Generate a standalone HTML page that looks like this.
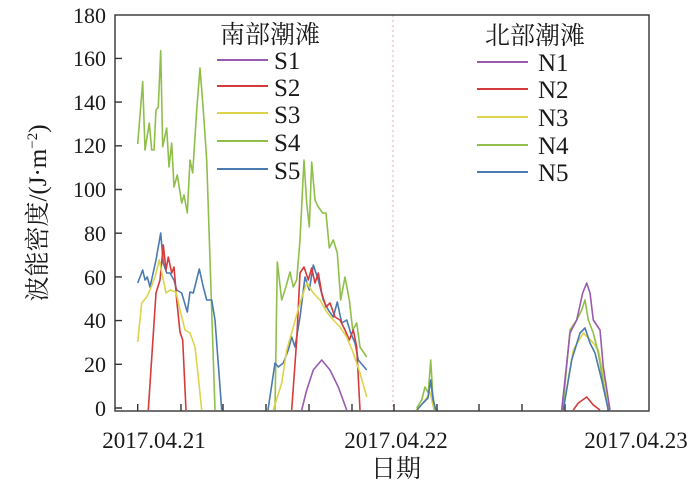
<!DOCTYPE html>
<html><head><meta charset="utf-8"><style>
body{margin:0;background:#fff}
svg text{font-family:"Liberation Serif","Noto Serif CJK SC",serif;fill:#1a1a1a}
</style></head><body>
<svg width="700" height="484" viewBox="0 0 700 484" xmlns="http://www.w3.org/2000/svg">
<rect width="700" height="484" fill="#fff"/>
<line x1="393" y1="15" x2="393" y2="411" stroke="#d9b0b0" stroke-width="1" stroke-dasharray="2,3"/>
<g stroke="#333" stroke-width="1.4" fill="none">
<rect x="115" y="15" width="534" height="396"/>
<path d="M115 408h7M115 364.3h7M115 320.6h7M115 276.9h7M115 233.2h7M115 189.5h7M115 145.8h7M115 102.1h7M115 58.4h7"/>
<path d="M137.7 411v-7M181 411v-7M223 411v-7M266 411v-7M309 411v-7M352 411v-7M394 411v-7M437 411v-7M479 411v-7M522 411v-7M565 411v-7M608 411v-7"/>
</g>
<g font-size="22" text-anchor="end">
<text x="106" y="416">0</text><text x="106" y="372">20</text><text x="106" y="328">40</text><text x="106" y="285">60</text><text x="106" y="241">80</text><text x="106" y="197">100</text><text x="106" y="153">120</text><text x="106" y="110">140</text><text x="106" y="66">160</text><text x="106" y="23">180</text>
</g>
<g font-size="23" text-anchor="middle">
<text x="154" y="448">2017.04.21</text><text x="396" y="448">2017.04.22</text><text x="636" y="448">2017.04.23</text>
<text x="396" y="477" font-size="25">日期</text>
<text transform="translate(46 213) rotate(-90)" font-size="25">波能密度/(J·m<tspan font-size="15" dy="-9">−2</tspan><tspan dy="9">)</tspan></text>
</g>
<g fill="none" stroke-width="1.6" stroke-linejoin="round">
<path stroke="#8fbf4a" d="M137.7 144L142.7 81.7 145 150 149.3 123 151.7 150 154 150 156 110 158.3 107 160.7 50.7 162.7 146.7 166.7 128 169 167 171.7 143 174 187 177.3 175 181.7 203 184 195 187.3 213 190 160 192.7 173 196.7 110 200 68 203.3 110 206.7 160 215 410M275 410L277.3 262 281.7 300 285 290 290 272 293.3 287 296.7 280 300 240 304 160 306.7 203 309.3 227 311.7 162 315 200 318.3 207 322.7 213 326 213 329.3 248 333.3 240 337.3 253 340.7 300 345 277 349.3 300 352.7 330 356.7 323 360 347 366.7 357"/>
<path stroke="#4a7ab0" d="M137.7 283L142.7 270 145 280 147.3 277 150 287 152.7 275 156 260 160.7 233 163.3 263 166.7 273 170 273 174 280 176.7 290 181.7 293 187.3 312 190 292 193.3 293 199.3 269 203.3 287 206.7 300 211.7 300 215 320 221.7 410M268 410L275 363 278.3 367 283.3 363 288.3 350 291.7 337 295 347 300 317 305 277 309.3 290 313.3 265 318.3 280 323.3 300 328.3 310 333.3 317 337.3 302 341.7 323 346.7 320 350.7 333 355 343 358.3 360 366.7 370"/>
<path stroke="#d63a3a" d="M148.3 410L156 293 160 280 163.3 245 166 270 168.3 257 171.7 273 174 267 176.7 300 180 332 182.7 340 186 410M291.7 410L296.7 340 300 273 304 267 308.3 280 311.7 268 315 283 318.3 273 321.7 293 326 307 330 303 335 317 340 320 345 330 349.3 340 353.3 330 356.7 347 360 410"/>
<path stroke="#dcd44a" d="M137.7 342L141.7 303 146.7 297 150 290 155 277 159.3 260 162.7 277 166 293 170 290 176 292 180 310 185 330 190 333 195 347 198.3 377 201.7 410M273.3 410L281.7 383 286.7 350 293.3 327 300 303 306.7 283 313.3 293 320 300 326.7 312 333.3 320 340 327 346.7 337 353.3 353 360 373 366.7 397"/>
<path stroke="#9a5ab0" d="M301.7 410L306.7 390 313.3 370 321.7 360 330 370 338.3 387 346.7 410"/>
<path stroke="#dcd44a" d="M416 410L424 402 430 392 434 410M563 410L573.3 350 583.3 333 593.3 343 598.3 350 605 383 610 410"/>
<path stroke="#8fbf4a" d="M416.7 408L421.7 400 425 387 428.3 393 430.7 360 432.7 393 435 410M562.7 410L570 330 576.7 320 581.7 310 585 300 588.3 320 593.3 333 598.3 353 603.3 383 608.3 410"/>
<path stroke="#4a7ab0" d="M417 410L423 403 428 398 430.7 380 433 400 436 410M563.3 410L571.7 360 580 333 585 328 590 343 595 353 601.7 380 608.3 410"/>
<path stroke="#9a5ab0" d="M561.7 410L570 333 576.7 320 582.7 293 586.7 283 590 293 593.3 320 600 330 603.3 367 610 410"/>
<path stroke="#d63a3a" d="M573.3 410L578.3 403 586.7 397 593.3 405 600 410"/>
</g>
<g font-size="25" text-anchor="middle"><text x="270" y="43">南部潮滩</text><text x="535" y="44">北部潮滩</text></g>
<g stroke-width="2">
<line x1="217" y1="60" x2="268" y2="60" stroke="#9a5ab0"/><line x1="217" y1="86" x2="268" y2="86" stroke="#d63a3a"/><line x1="217" y1="113" x2="268" y2="113" stroke="#dcd44a"/><line x1="217" y1="141" x2="268" y2="141" stroke="#8fbf4a"/><line x1="217" y1="169" x2="268" y2="169" stroke="#4a7ab0"/>
<line x1="477" y1="62" x2="528" y2="62" stroke="#9a5ab0"/><line x1="477" y1="89" x2="528" y2="89" stroke="#d63a3a"/><line x1="477" y1="117" x2="528" y2="117" stroke="#dcd44a"/><line x1="477" y1="145" x2="528" y2="145" stroke="#8fbf4a"/><line x1="477" y1="172" x2="528" y2="172" stroke="#4a7ab0"/>
</g>
<g font-size="25">
<text x="274" y="69">S1</text><text x="274" y="96">S2</text><text x="274" y="123">S3</text><text x="274" y="151">S4</text><text x="274" y="179">S5</text>
<text x="538" y="71">N1</text><text x="538" y="98">N2</text><text x="538" y="126">N3</text><text x="538" y="154">N4</text><text x="538" y="181">N5</text>
</g>
</svg>
</body></html>
